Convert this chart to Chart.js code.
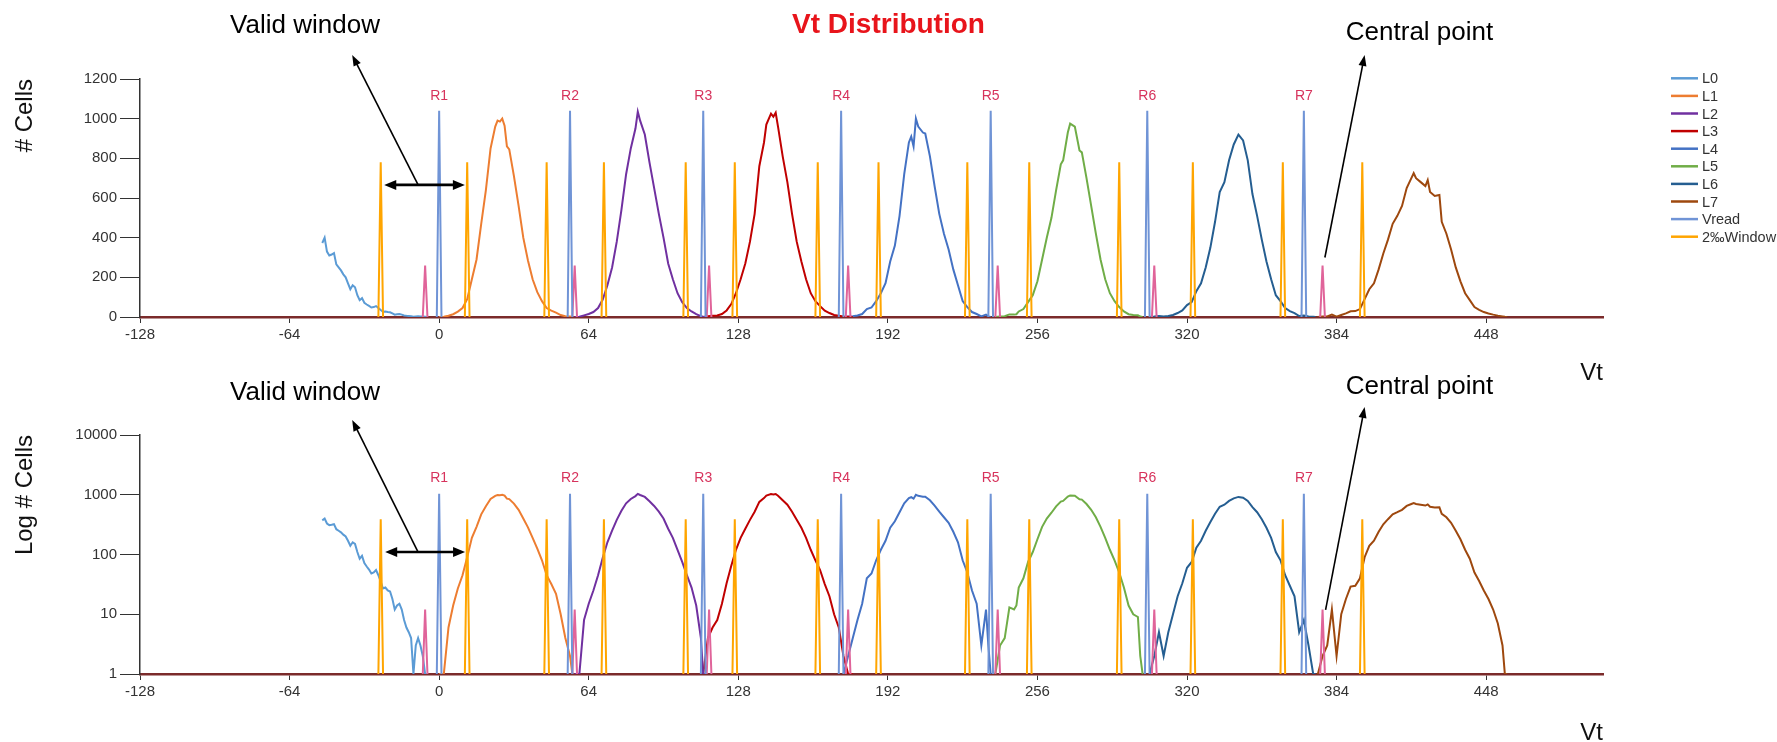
<!DOCTYPE html>
<html><head><meta charset="utf-8">
<script src="https://cdn.jsdelivr.net/npm/chart.js@4.4.1/dist/chart.umd.min.js"></script>
<style>
html,body{margin:0;padding:0;background:#fff;overflow:hidden;width:1777px;height:742px;}
.wrap{position:absolute;left:0;width:1777px;}
#w1{top:0;height:390px;}
#w2{top:360px;height:390px;}
canvas{display:block;}
</style></head><body>
<div class="wrap" id="w1"><canvas id="c1" width="1777" height="390"></canvas></div>
<div class="wrap" id="w2"><canvas id="c2" width="1777" height="390"></canvas></div>
<script>
// ---------- DATA ----------
const xTicks = [-128, -64, 0, 64, 128, 192, 256, 320, 384, 448];
const linTicks = [0, 200, 400, 600, 800, 1000, 1200];
const logTicks = [1, 10, 100, 1000, 10000];

const L0 = [[-50,373],[-49,400],[-48,330],[-47,310],[-46,315],[-45,322],[-44,265],[-43,250],[-42,235],[-41,215],[-40,200],[-39,170],[-38,140],[-37,160],[-36,150],[-35,110],[-34,85],[-33,95],[-32,72],[-31,63],[-30,56],[-29,48],[-28,50],[-27,55],[-26,45],[-25,35],[-24,27],[-23,28],[-22,25],[-21,24],[-20,18],[-19,12],[-18,14],[-17,15],[-16,12],[-15,8],[-14,6],[-13,5],[-12,4],[-11,1],[-10,3],[-9,4],[-8,3],[-7,2],[-6,1],[-5,0]];
const L1 = [[0,0],[2,1],[4,6],[6,14],[8,27],[10,45],[12,90],[14,190],[16,290],[18,470],[20,640],[22,850],[24,960],[25,990],[26,985],[27,1000],[28,965],[29,860],[30,845],[32,710],[34,560],[36,400],[38,285],[40,190],[42,125],[44,80],[46,45],[48,32],[50,22],[52,10],[54,4],[56,2],[57,0]];
const L2 = [[58,0],[60,1],[62,8],[64,15],[66,25],[68,45],[70,88],[72,160],[74,250],[76,380],[78,540],[80,720],[82,850],[84,950],[85,1035],[86,990],[88,920],[90,780],[92,650],[94,520],[96,400],[98,270],[100,190],[102,120],[104,75],[106,45],[108,28],[110,14],[112,4],[113,1],[114,0]];
const L3 = [[113,0],[115,4],[117,6],[119,8],[121,15],[123,33],[125,65],[127,120],[129,190],[131,270],[133,380],[135,520],[137,760],[139,880],[140,970],[142,1025],[143,1010],[144,1030],[145,960],[147,810],[149,680],[151,520],[153,380],[155,280],[157,190],[159,120],[161,80],[163,55],[165,32],[167,20],[169,10],[171,6],[173,2],[175,1],[177,0]];
const L4 = [[173,0],[175,2],[177,4],[179,8],[181,15],[183,40],[185,48],[187,80],[189,120],[191,170],[193,280],[195,360],[197,510],[199,720],[201,880],[202,910],[203,860],[204,1000],[205,960],[207,930],[208,925],[210,810],[212,660],[214,520],[216,420],[218,340],[220,240],[222,160],[224,80],[226,50],[228,25],[230,15],[232,3],[234,12],[235,3],[236,0]];
const L5 = [[238,0],[240,3],[242,4],[244,13],[246,12],[247,14],[248,28],[250,40],[252,75],[254,110],[256,180],[258,290],[260,400],[262,500],[264,640],[266,770],[267,790],[269,930],[270,975],[272,960],[274,840],[275,830],[277,700],[279,560],[281,420],[283,290],[285,190],[287,120],[289,80],[291,50],[293,28],[295,14],[297,10],[299,9],[300,2],[301,0]];
const L6 = [[304,0],[306,2],[308,5],[310,2],[312,5],[314,10],[316,20],[318,33],[320,60],[322,75],[324,130],[326,170],[328,250],[330,350],[332,480],[334,630],[336,680],[338,790],[340,870],[342,920],[344,890],[346,790],[348,620],[350,510],[352,390],[354,280],[356,190],[358,110],[360,80],[362,45],[364,30],[366,20],[368,5],[370,8],[372,3],[374,1],[375,0]];
const L7 = [[376,0],[378,2],[380,3],[382,12],[384,2],[386,10],[388,18],[390,29],[392,30],[394,40],[396,90],[398,140],[400,170],[402,240],[404,320],[406,390],[408,470],[410,510],[412,560],[414,650],[416,700],[417,725],[418,700],[420,680],[422,660],[423,690],[424,630],[426,610],[428,615],[429,480],[431,420],[433,340],[435,250],[437,180],[439,120],[441,85],[443,50],[445,36],[447,25],[449,18],[451,12],[453,7],[455,3],[456,1],[457,0]];

const vreadPos   = [0, 56, 113, 172, 236, 303, 370];
const windowPos  = [-25, 12, 46, 70.5, 105.5, 126.5, 162, 188, 226, 252.5, 291, 322.5, 361, 395];
const centralPos = [-6, 58, 115.5, 175, 239, 306, 378];
const rLabels    = ['R1','R2','R3','R4','R5','R6','R7'];

const vreadHeightLin = 1040, windowHeightLin = 780, centralHeightLin = 260;
const vreadHeightLog = 1040, windowHeightLog = 390, centralHeightLog = 12;
const rLabelYLin = 1112, rLabelYLog = 1910;

const levelNames  = ['L0','L1','L2','L3','L4','L5','L6','L7'];
const levelColors = ['#5B9BD5','#ED7D31','#7030A0','#C00000','#4472C4','#70AD47','#255E91','#9E480E'];
const levelData   = [L0, L1, L2, L3, L4, L5, L6, L7];

// annotation anchors in data units
const annTop = {
  texts: [{text:'Valid window', x:-57.4, y:1470}, {text:'Central point', x:419.5, y:1432}],
  arrows: [{x1:-9, y1:666, x2:-37.2, y2:1321}, {x1:379, y1:300, x2:396, y2:1321}],
  doubles: [{x1:-23.5, x2:11, y:666}]
};
const annBot = {
  texts: [{text:'Valid window', x:-57.4, y:50400}, {text:'Central point', x:419.5, y:63600}],
  arrows: [{x1:-9, y1:110, x2:-37.2, y2:17800}, {x1:379.3, y1:11.8, x2:396, y2:29400}],
  doubles: [{x1:-23.1, x2:11.1, y:110}]
};

// ---------- BUILD ----------
const FONT = "'Liberation Sans', Arial, sans-serif";
// on the log chart a zero count sits on the floor of the axis (1)
function pts(arr, floor){ return arr.map(p => ({x:p[0], y:Math.max(p[1], floor)})); }
function spikes(pos, h, floor){
  const out = [];
  pos.forEach(p => { out.push({x:p-1,y:floor},{x:p,y:h},{x:p+1,y:floor},{x:p+1.01,y:null}); });
  return out;
}
function datasets(vh, wh, ch, floor){
  const ds = [];
  ds.push({label:'Vread', data:spikes(vreadPos, vh, floor), borderColor:'#7094D6', order:0});
  ds.push({label:'2‰Window', data:spikes(windowPos, wh, floor), borderColor:'#FFA500', order:0});
  ds.push({label:'', hideLegend:true, data:spikes(centralPos, ch, floor), borderColor:'#E0649A', order:0});
  levelData.forEach((d,i) => ds.push({label:levelNames[i], data:pts(d, floor), borderColor:levelColors[i], order:1}));
  ds.forEach(d => { d.borderWidth = 2; d.pointRadius = 0; d.fill = false; d.tension = 0; d.spanGaps = false; d.backgroundColor = d.borderColor; });
  return ds;
}

function drawArrowHead(ctx, x1, y1, x2, y2, len, w){
  const a = Math.atan2(y2-y1, x2-x1);
  const c = Math.cos(a), s = Math.sin(a);
  ctx.beginPath();
  ctx.moveTo(x2, y2);
  ctx.lineTo(x2 - len*c + (w/2)*s, y2 - len*s - (w/2)*c);
  ctx.lineTo(x2 - len*c - (w/2)*s, y2 - len*s + (w/2)*c);
  ctx.closePath();
  ctx.fill();
}

const decor = {
  id: 'decor',
  afterDraw(chart, args, opts){
    const {ctx} = chart; const x = chart.scales.x, y = chart.scales.y;
    ctx.save();
    // main title (centred on the page)
    if (opts.title) {
      ctx.font = 'bold 28px ' + FONT; ctx.fillStyle = '#E8141B';
      ctx.textAlign = 'center'; ctx.textBaseline = 'middle';
      ctx.fillText(opts.title, chart.width / 2, 25);
    }
    // R labels
    ctx.font = '14px ' + FONT; ctx.fillStyle = '#D7335C';
    ctx.textAlign = 'center'; ctx.textBaseline = 'middle';
    vreadPos.forEach((p,i) => ctx.fillText(rLabels[i], x.getPixelForValue(p), y.getPixelForValue(opts.rY)));
    // annotation texts
    ctx.fillStyle = '#000'; ctx.font = '26px ' + FONT;
    opts.ann.texts.forEach(t => ctx.fillText(t.text, x.getPixelForValue(t.x), y.getPixelForValue(t.y)));
    // arrows
    ctx.strokeStyle = '#000';
    opts.ann.arrows.forEach(a => {
      const X1 = x.getPixelForValue(a.x1), Y1 = y.getPixelForValue(a.y1);
      const X2 = x.getPixelForValue(a.x2), Y2 = y.getPixelForValue(a.y2);
      ctx.lineWidth = 1.6;
      const ang = Math.atan2(Y2-Y1, X2-X1);
      ctx.beginPath(); ctx.moveTo(X1, Y1); ctx.lineTo(X2 - 8*Math.cos(ang), Y2 - 8*Math.sin(ang)); ctx.stroke();
      drawArrowHead(ctx, X1, Y1, X2, Y2, 11, 8);
    });
    opts.ann.doubles.forEach(d => {
      const X1 = x.getPixelForValue(d.x1), X2 = x.getPixelForValue(d.x2), Y = y.getPixelForValue(d.y);
      ctx.lineWidth = 2.6;
      ctx.beginPath(); ctx.moveTo(X1 + 8, Y); ctx.lineTo(X2 - 8, Y); ctx.stroke();
      drawArrowHead(ctx, X2, Y, X1, Y, 12, 10);
      drawArrowHead(ctx, X1, Y, X2, Y, 12, 10);
    });
    // legend
    if (opts.legend) {
      const items = chart.data.datasets.filter(d => !d.hideLegend);
      const order = levelNames.concat(['Vread','2‰Window']);
      const lx = chart.chartArea.right + 68, ly = chart.chartArea.top - 0.7;
      ctx.font = '14.5px ' + FONT; ctx.textAlign = 'left'; ctx.textBaseline = 'middle';
      order.forEach((name, i) => {
        const d = items.find(it => it.label === name);
        const yy = ly + i*17.6;
        ctx.strokeStyle = d.borderColor; ctx.lineWidth = 2.5;
        ctx.beginPath(); ctx.moveTo(lx, yy); ctx.lineTo(lx + 27, yy); ctx.stroke();
        ctx.fillStyle = '#333'; ctx.fillText(name, lx + 31, yy + 1);
      });
    }
    ctx.restore();
  }
};

function xScale(h){
  return {
    type:'linear', min:-128, max:498,
    afterBuildTicks: s => { s.ticks = xTicks.map(v => ({value:v})); },
    afterFit: s => { s.height = h; },
    grid:{drawOnChartArea:false, drawTicks:true, tickLength:6, color:'#333', tickWidth:1},
    border:{display:true, color:'#7B2B2B', width:2.5},
    ticks:{font:{family:FONT, size:15}, color:'#333', padding:3, maxRotation:0, autoSkip:false, callback: v => String(v)},
    title:{display:true, text:'Vt', align:'end', font:{family:FONT, size:24, lineHeight:1.2}, color:'#111', padding:{top:0, bottom:2}}
  };
}
function yCommon(title){
  return {
    afterFit: s => { s.width = 140; },
    grid:{drawOnChartArea:false, drawTicks:true, tickLength:20, color:'#333'},
    border:{display:true, color:'#333', width:1.5},
    title:{display:true, text:title, align:'end', font:{family:FONT, size:24, lineHeight:1.2}, color:'#111', padding:{top:11, bottom:0}}
  };
}

const yTop = Object.assign(yCommon('# Cells'), {
  type:'linear', min:0, max:1200,
  afterBuildTicks: s => { s.ticks = linTicks.map(v => ({value:v})); },
  ticks:{font:{family:FONT, size:15}, color:'#333', padding:3, callback: v => String(v)}
});
const yBot = Object.assign(yCommon('Log # Cells'), {
  type:'logarithmic', min:1, max:10000,
  afterBuildTicks: s => { s.ticks = logTicks.map(v => ({value:v})); },
  ticks:{font:{family:FONT, size:15}, color:'#333', padding:3, callback: v => String(v)}
});

new Chart(document.getElementById('c1'), {
  type:'line',
  data:{datasets: datasets(vreadHeightLin, windowHeightLin, centralHeightLin, 0)},
  options:{
    responsive:false, animation:false,
    layout:{padding:{top:79, left:0, right:174, bottom:0}},
    scales:{x: xScale(73), y: yTop},
    plugins:{
      legend:{display:false}, tooltip:{enabled:false}, title:{display:false},
      decor:{ann:annTop, rY:rLabelYLin, legend:true, title:'Vt Distribution'}
    }
  },
  plugins:[decor]
});

new Chart(document.getElementById('c2'), {
  type:'line',
  data:{datasets: datasets(vreadHeightLog, windowHeightLog, centralHeightLog, 1)},
  options:{
    responsive:false, animation:false,
    layout:{padding:{top:75, left:0, right:174, bottom:0}},
    scales:{x: xScale(76), y: yBot},
    plugins:{
      legend:{display:false}, tooltip:{enabled:false}, title:{display:false},
      decor:{ann:annBot, rY:rLabelYLog, legend:false, title:null}
    }
  },
  plugins:[decor]
});
</script></body></html>
